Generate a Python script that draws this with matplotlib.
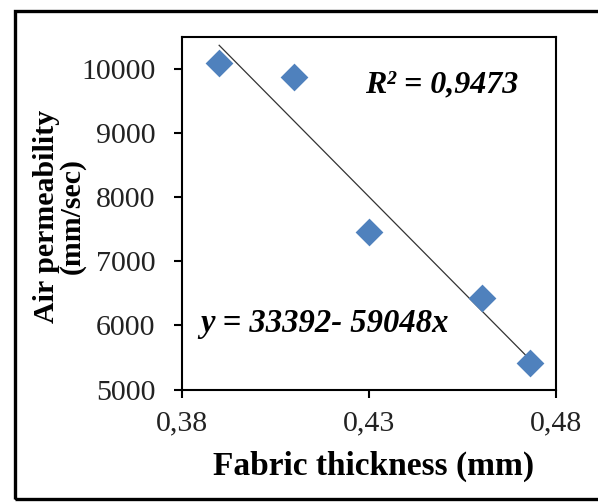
import matplotlib
matplotlib.use('Agg')
import matplotlib.pyplot as plt
from matplotlib.patches import Rectangle
import numpy as np

# data
thickness = [0.39, 0.41, 0.43, 0.46, 0.473]
permeability = [10090, 9870, 7450, 6420, 5420]
x_ticks = [0.38, 0.43, 0.48]
x_tick_labels = ['0,38', '0,43', '0,48']
y_ticks = [5000, 6000, 7000, 8000, 9000, 10000]
intercept = 33392
slope = -59048

plt.rcParams['font.family'] = 'Liberation Serif'

fig = plt.figure(figsize=(5.98, 5.03), dpi=100)
ax = fig.add_axes([0.3038, 0.2256, 0.6268, 0.7018])

ax.scatter(thickness, permeability, marker='D', s=200, color='#4F81BD', zorder=3, linewidths=0)

# linear trendline
xt = np.array([min(thickness), max(thickness)])
ax.plot(xt, intercept + slope * xt, color='#333333', lw=0.9, zorder=2)

ax.set_xlim(0.38, 0.48)
ax.set_ylim(5000, 10500)
ax.set_xticks(x_ticks)
ax.set_xticklabels(x_tick_labels)
ax.set_yticks(y_ticks)
ax.set_yticklabels([str(v) for v in y_ticks])

for s in ax.spines.values():
    s.set_linewidth(1.5)
ax.tick_params(direction='out', length=6, width=1.5, labelsize=21.5, pad=13,
               labelcolor='#222222')
ax.tick_params(axis='x', pad=9)

ax.text(0.4289, 9740, 'R² = 0,9473', fontsize=23, fontweight='bold', fontstyle='italic',
        ha='left', va='center')
ax.text(0.3849, 6035, 'y = 33392- 59048x', fontsize=23.5, fontweight='bold', fontstyle='italic',
        ha='left', va='center')

fig.text(0.6254, 0.0736, 'Fabric thickness (mm)', fontsize=24, fontweight='bold',
         ha='center', va='center')
fig.text(0.099, 0.570, 'Air permeability\n(mm/sec)', fontsize=21.5, fontweight='bold',
         rotation=90, ha='center', va='center', multialignment='center', linespacing=0.95)

# outer frame
fig.patches.append(Rectangle((0.0255, 0.007), 1.0, 0.972, transform=fig.transFigure,
                             fill=False, lw=2.4, edgecolor='black', clip_on=False))

fig.savefig('out.png', dpi=100)
